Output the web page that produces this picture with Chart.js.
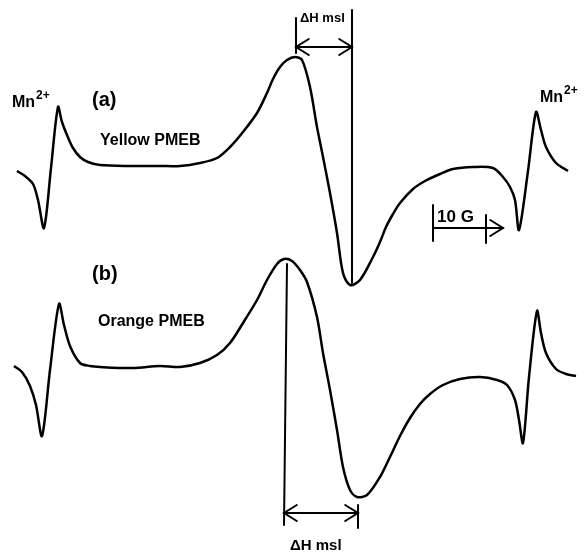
<!DOCTYPE html>
<html>
<head>
<meta charset="utf-8">
<script src="https://cdn.jsdelivr.net/npm/chart.js@4.4.1/dist/chart.umd.min.js"></script>
<style>
  html, body { margin: 0; padding: 0; background: #fff; }
  #wrap { width: 586px; height: 553px; }
</style>
</head>
<body>
<div id="wrap"><canvas id="myChart" width="586" height="553"></canvas></div>
<script>
// spectrum (a) Yellow PMEB - field position vs signal
const fieldA = [17, 25, 33, 38, 44, 51, 58, 62, 67, 73, 80, 88, 100, 130, 160, 180, 200, 217, 230, 243, 257, 267, 273, 280, 287, 295, 302, 310, 317, 323, 330, 337, 343, 350, 360, 373, 380, 386, 393, 400, 413, 425, 440, 453, 473, 493, 503, 510, 515, 519, 528, 536, 541, 546, 556, 568]
const signalA = [171, 176, 184, 200, 228, 168, 107, 122, 135, 148, 157, 162, 165, 166, 166, 166, 163, 158, 147, 132, 113, 93, 79, 67, 60, 57, 60, 87, 127, 157, 193, 233, 273, 285, 280, 257, 242, 227, 214, 203, 189, 181, 174, 169, 167, 168, 177, 187, 200, 230, 171, 112, 130, 147, 163, 171]

// spectrum (b) Orange PMEB
const fieldB = [14, 22, 30, 36, 42, 50, 59, 64, 70, 80, 90, 100, 133, 160, 180, 200, 217, 230, 243, 257, 267, 277, 284, 292, 300, 307, 317, 323, 330, 337, 343, 350, 357, 367, 380, 390, 400, 410, 420, 430, 443, 460, 480, 497, 507, 515, 519, 523, 529, 537, 541, 546, 556, 566, 576]
const signalB = [366, 372, 386, 405, 436, 370, 304, 325, 346, 363, 366, 367, 368, 366, 367, 363, 355, 343, 323, 300, 280, 264, 259, 261, 270, 282, 317, 353, 390, 430, 467, 490, 497, 495, 477, 457, 436, 418, 404, 394, 385, 379, 377, 380, 385, 400, 420, 443, 377, 311, 333, 353, 369, 374, 376]

// marker lines, labels
const lines = [
    [296, 18, 296, 53],   // dH msl (a) left tick
    [352, 10, 352, 283],  // dH msl (a) right line
    [287, 264, 284, 525], // dH msl (b) left line
    [358, 505, 358, 528], // dH msl (b) right tick
    [433, 205, 433, 241], // 10 G bar
    [486, 215, 486, 243]
]
const arrows = [
    [296, 47, 352, 47],
    [284, 513, 358, 513],
    [433, 228, 503, 228]
]
const labels = [
    { text: '(a)', x: 92, y: 106, font: 'bold 20px "Liberation Sans", Arial' },
    { text: 'Yellow PMEB', x: 100, y: 145, font: '600 16px "Liberation Sans", Arial' },
    { text: '(b)', x: 92, y: 280, font: 'bold 20px "Liberation Sans", Arial' },
    { text: 'Orange PMEB', x: 98, y: 326, font: '600 16px "Liberation Sans", Arial' },
    { text: '\u0394H msl', x: 300, y: 22, font: '600 13px "Liberation Sans", Arial' },
    { text: '\u0394H msl', x: 290, y: 550, font: '600 15px "Liberation Sans", Arial' },
    { text: '10 G', x: 437, y: 222, font: 'bold 17px "Liberation Sans", Arial' }
]
const mnLabels = [[12, 107], [540, 102]]

function toPoints(xs, ys) {
    return xs.map((x, i) => ({ x: x, y: ys[i] }))
}

const notesPlugin = {
    id: 'notes',
    afterDatasetsDraw(chart) {
        const ctx = chart.ctx
        const sx = chart.scales.x
        const sy = chart.scales.y
        ctx.save()
        ctx.strokeStyle = '#000'
        ctx.fillStyle = '#000'
        ctx.lineWidth = 2
        ctx.lineCap = 'round'
        lines.forEach(l => {
            ctx.beginPath()
            ctx.moveTo(sx.getPixelForValue(l[0]), sy.getPixelForValue(l[1]))
            ctx.lineTo(sx.getPixelForValue(l[2]), sy.getPixelForValue(l[3]))
            ctx.stroke()
        })
        arrows.forEach((a, i) => {
            const x1 = sx.getPixelForValue(a[0]), y = sy.getPixelForValue(a[1])
            const x2 = sx.getPixelForValue(a[2])
            ctx.beginPath()
            ctx.moveTo(x1, y)
            ctx.lineTo(x2, y)
            ctx.stroke()
            const h = 8
            ctx.beginPath()
            ctx.moveTo(x2 - h * 1.6, y - h)
            ctx.lineTo(x2, y)
            ctx.lineTo(x2 - h * 1.6, y + h)
            ctx.stroke()
            if (i < 2) {
                ctx.beginPath()
                ctx.moveTo(x1 + h * 1.6, y - h)
                ctx.lineTo(x1, y)
                ctx.lineTo(x1 + h * 1.6, y + h)
                ctx.stroke()
            }
        })
        ctx.textBaseline = 'alphabetic'
        labels.forEach(t => {
            ctx.font = t.font
            ctx.fillText(t.text, sx.getPixelForValue(t.x), sy.getPixelForValue(t.y))
        })
        mnLabels.forEach(m => {
            const x = sx.getPixelForValue(m[0]), y = sy.getPixelForValue(m[1])
            ctx.font = '600 16px "Liberation Sans", Arial'
            ctx.fillText('Mn', x, y)
            const w = ctx.measureText('Mn').width
            ctx.font = '600 12px "Liberation Sans", Arial'
            ctx.fillText('2+', x + w + 1, y - 8)
        })
        ctx.restore()
    }
}

const ctx = document.getElementById('myChart').getContext('2d')
const myChart = new Chart(ctx, {
    type: 'scatter',
    data: {
        datasets: [{
            label: 'Yellow PMEB',
            data: toPoints(fieldA, signalA),
            showLine: true,
            borderColor: '#000',
            borderWidth: 2.5,
            pointRadius: 0,
            tension: 0.3
        }, {
            label: 'Orange PMEB',
            data: toPoints(fieldB, signalB),
            showLine: true,
            borderColor: '#000',
            borderWidth: 2.5,
            pointRadius: 0,
            tension: 0.3
        }]
    },
    options: {
        responsive: false,
        animation: false,
        layout: { padding: 0 },
        scales: {
            x: { type: 'linear', min: 0, max: 586, display: false },
            y: { type: 'linear', min: 0, max: 553, reverse: true, display: false }
        },
        plugins: {
            legend: { display: false },
            tooltip: { enabled: false }
        }
    },
    plugins: [notesPlugin]
})
</script>
</body>
</html>
